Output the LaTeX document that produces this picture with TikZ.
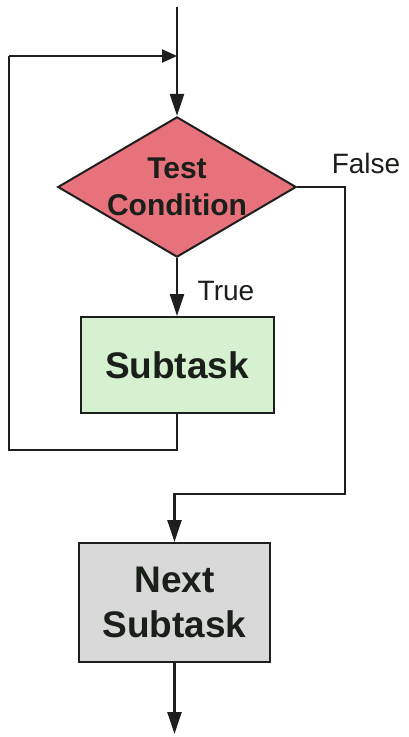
\documentclass[tikz,border=0pt]{standalone}
\usepackage{fontspec}
\setmainfont{Liberation Sans}
\usetikzlibrary{arrows.meta,shapes.geometric}
\definecolor{linec}{HTML}{1E1E1E}
\definecolor{diafill}{HTML}{E8727C}
\definecolor{subfill}{HTML}{D6F1D0}
\definecolor{nextfill}{HTML}{D9D9D9}
\definecolor{textc}{HTML}{1A1F1A}
\tikzset{
  conn/.style={draw=linec, line width=2.4pt},
  arr/.style={conn, -{Triangle[width=14pt,length=22pt]}},
  smallarr/.style={conn, -{Triangle[width=13pt,length=15pt]}},
  dia/.style={diamond, draw=linec, line width=2pt, fill=diafill, inner sep=0pt,
    minimum width=238pt, minimum height=140pt, aspect=1.7, align=center,
    text=textc, font=\fontsize{30}{37}\selectfont\bfseries},
  taskbox/.style={rectangle, draw=linec, line width=2pt, inner sep=0pt, align=center,
    text=textc, font=\fontsize{37}{45}\selectfont\bfseries},
  lbl/.style={text=textc, font=\fontsize{28}{34}\selectfont, inner sep=0pt}
}
\begin{document}
\begin{tikzpicture}[x=1pt,y=-1pt]
\useasboundingbox (0,0) rectangle (408,737);
\fill[white] (0,0) rectangle (408,737);
\coordinate (start) at (177,7);
\node[dia] (test) at (177,187) {Test\\Condition};
\node[taskbox, fill=subfill, minimum width=193pt, minimum height=96pt] (sub) at (177,365) {Subtask};
\node[taskbox, fill=nextfill, minimum width=191pt, minimum height=119pt] (next) at (174.5,602.5) {Next\\Subtask};
\coordinate (join) at (177,56);
\coordinate (loopTop) at (9,56);
\coordinate (loopBot) at (9,450);
\coordinate (falseBend) at (345,494);
\coordinate (end) at (174.5,734);
% main flow
\draw[conn] (start) -- (join);
\draw[arr] (join) -- (test.north);
\draw[arr] (test.south) -- (sub.north);
% loop back
\draw[conn] (sub.south) |- (loopBot) -- (loopTop);
\draw[smallarr] (loopTop) -- (join);
% false branch
\draw[arr] (test.east) -| (falseBend) -| (next.north);
\draw[arr] (next.south) -- (end);
% labels
\node[lbl] (truelbl) at (226,291) {True};
\node[lbl] (falselbl) at (366,163) {False};
\end{tikzpicture}
\end{document}
